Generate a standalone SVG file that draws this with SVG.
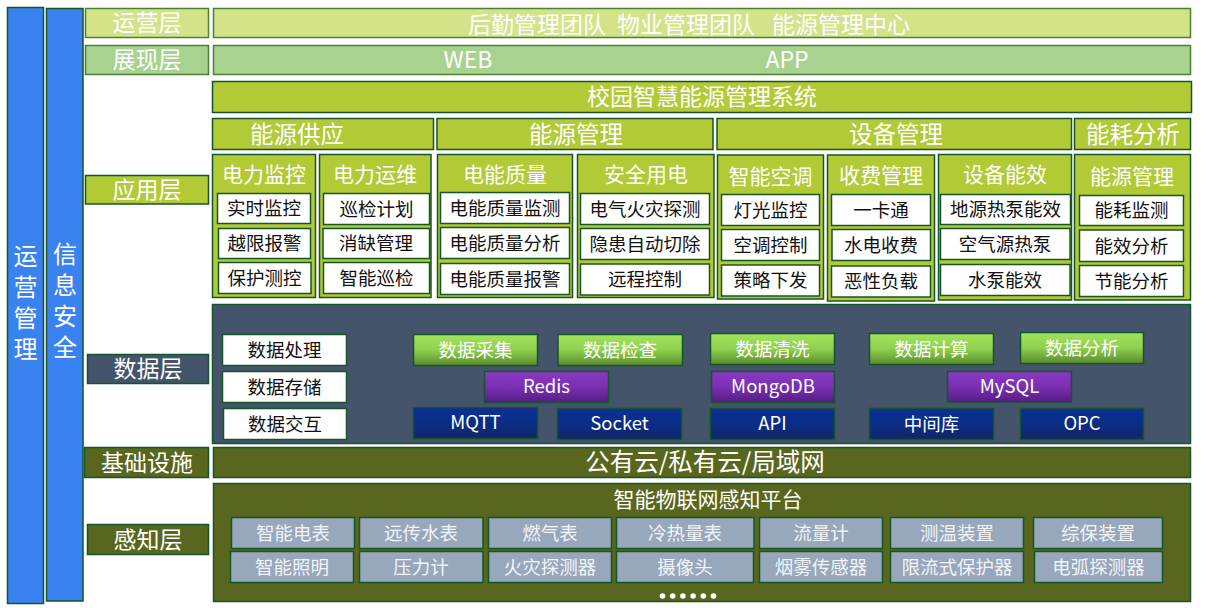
<svg xmlns="http://www.w3.org/2000/svg" width="1209" height="608" viewBox="0 0 1209 608">
<defs>
<linearGradient id="gGreen" x1="0" y1="0" x2="0" y2="1"><stop offset="0" stop-color="#a2e45c"/><stop offset="0.5" stop-color="#8fd04e"/><stop offset="1" stop-color="#5a8a2c"/></linearGradient>
<linearGradient id="gPurple" x1="0" y1="0" x2="0" y2="1"><stop offset="0" stop-color="#8a38c4"/><stop offset="0.5" stop-color="#7a30b2"/><stop offset="1" stop-color="#561c84"/></linearGradient>
<linearGradient id="gNavy" x1="0" y1="0" x2="0" y2="1"><stop offset="0" stop-color="#0a3094"/><stop offset="0.5" stop-color="#0b2d86"/><stop offset="1" stop-color="#102765"/></linearGradient>
</defs>
<style>
text{font-family:"Noto Sans CJK SC","Noto Sans",sans-serif;text-anchor:middle;}
.bd{stroke:#15552a;stroke-width:1.5;}
.lt{stroke:#4d7f35;stroke-width:1.5;}
.blue{fill:#3b82f1;}
.ops{fill:#d2e389;}
.pres{fill:#a8d290;}
.app{fill:#b1ca35;}
.slate{fill:#44546a;}
.olive{fill:#59661d;}
.wh{fill:#ffffff;}
.sen{fill:#97a7bc;}
.t22{font-size:23px;fill:#ffffff;}
.tc{font-size:23.5px;fill:#ffffff;}
.t24{font-size:24.5px;fill:#ffffff;}
.t20{font-size:21px;fill:#ffffff;}
.tb{font-size:18.5px;fill:#111111;}
.tw{font-size:18.5px;fill:#ffffff;}
.ts{font-size:18.5px;fill:#f1f4f8;}
.vt{font-size:24px;fill:#ffffff;writing-mode:vertical-rl;text-anchor:start;letter-spacing:7px;}
</style>

<g id="side-ops">
<rect class="blue bd" x="7.5" y="7.5" width="36" height="596"/>
<text class="vt" x="25.5" y="244">运营管理</text>
</g>
<g id="side-sec">
<rect class="blue bd" x="46.5" y="8.5" width="36.5" height="592.5"/>
<text class="vt" x="65" y="242">信息安全</text>
</g>

<g id="label-ops"><rect class="ops lt" x="85.5" y="8.5" width="123" height="29"/><text class="t22" x="147" y="31">运营层</text></g>
<g id="label-pres"><rect class="pres lt" x="85.5" y="45.5" width="123" height="29"/><text class="t22" x="147" y="68">展现层</text></g>
<g id="label-app"><rect class="app bd" x="85.5" y="175.5" width="123" height="28.5"/><text class="t22" x="147" y="197.5">应用层</text></g>
<g id="label-data"><rect class="slate bd" x="87.5" y="354.5" width="121" height="29"/><text class="t22" x="148" y="377">数据层</text></g>
<g id="label-infra"><rect class="olive bd" x="84.5" y="447.5" width="124" height="30"/><text class="t22" x="147" y="470.5">基础设施</text></g>
<g id="label-sense"><rect class="olive bd" x="87.5" y="524.5" width="121" height="30"/><text class="t22" x="148" y="547.5">感知层</text></g>

<g id="ops-bar"><rect class="ops lt" x="213.5" y="8.5" width="977" height="29"/>
<text class="t22" x="537" y="33">后勤管理团队</text>
<text class="t22" x="686" y="33">物业管理团队</text>
<text class="t22" x="841" y="33">能源管理中心</text></g>
<g id="pres-bar"><rect class="pres lt" x="213.5" y="45.5" width="977" height="29"/>
<text class="t22" x="468" y="68">WEB</text>
<text class="t22" x="787" y="68">APP</text></g>
<g id="system"><rect class="app bd" x="212.5" y="81.5" width="979" height="31"/><text class="t22" x="702" y="105">校园智慧能源管理系统</text></g>

<g id="cat-supply"><rect class="app bd" x="212.5" y="118.5" width="221" height="31"/><text class="tc" x="297" y="142.5">能源供应</text></g>
<g id="cat-energy"><rect class="app bd" x="437" y="118.5" width="276" height="31"/><text class="tc" x="576" y="142.5">能源管理</text></g>
<g id="cat-device"><rect class="app bd" x="717" y="118.5" width="354.5" height="31"/><text class="tc" x="896" y="142.5">设备管理</text></g>
<g id="cat-analysis"><rect class="app bd" x="1074.5" y="118.5" width="116" height="31"/><text class="tc" x="1133" y="142.5">能耗分析</text></g>

<g id="grp-power-mon"><rect class="app bd" x="212.5" y="154.5" width="103" height="143"/><text class="t20" x="264" y="181.5">电力监控</text>
<rect class="wh bd" x="217.5" y="193.5" width="93" height="30"/><text class="tb" x="264" y="215">实时监控</text>
<rect class="wh bd" x="218.5" y="228.5" width="92" height="30"/><text class="tb" x="264.5" y="250">越限报警</text>
<rect class="wh bd" x="218.5" y="262.5" width="92.5" height="31"/><text class="tb" x="264.5" y="284.5">保护测控</text></g>

<g id="grp-power-om"><rect class="app bd" x="319.5" y="154.5" width="111.5" height="143"/><text class="t20" x="375" y="181.5">电力运维</text>
<rect class="wh bd" x="323.5" y="193.5" width="106" height="31"/><text class="tb" x="376.5" y="215.5">巡检计划</text>
<rect class="wh bd" x="323" y="228.5" width="106.5" height="30"/><text class="tb" x="376" y="250">消缺管理</text>
<rect class="wh bd" x="323.5" y="262.5" width="106" height="31"/><text class="tb" x="376.5" y="284.5">智能巡检</text></g>

<g id="grp-quality"><rect class="app bd" x="437.5" y="154.5" width="135" height="143"/><text class="t20" x="505" y="181.5">电能质量</text>
<rect class="wh bd" x="440.5" y="192.5" width="129" height="31"/><text class="tb" x="505" y="214.5">电能质量监测</text>
<rect class="wh bd" x="440.5" y="227.5" width="129" height="31"/><text class="tb" x="505" y="249.5">电能质量分析</text>
<rect class="wh bd" x="440.5" y="263.5" width="129" height="31"/><text class="tb" x="505" y="285.5">电能质量报警</text></g>

<g id="grp-safety"><rect class="app bd" x="577.5" y="154.5" width="136.5" height="143"/><text class="t20" x="646" y="181.5">安全用电</text>
<rect class="wh bd" x="580.5" y="193.5" width="129" height="31"/><text class="tb" x="645" y="215.5">电气火灾探测</text>
<rect class="wh bd" x="580.5" y="228.5" width="129" height="31"/><text class="tb" x="645" y="250.5">隐患自动切除</text>
<rect class="wh bd" x="580.5" y="264" width="129" height="31"/><text class="tb" x="645" y="286">远程控制</text></g>

<g id="grp-hvac"><rect class="app bd" x="717.5" y="155" width="106" height="144"/><text class="t20" x="770.5" y="184">智能空调</text>
<rect class="wh bd" x="721.5" y="194.5" width="98" height="31"/><text class="tb" x="770.5" y="216.5">灯光监控</text>
<rect class="wh bd" x="721.5" y="229.5" width="98" height="31"/><text class="tb" x="770.5" y="251.5">空调控制</text>
<rect class="wh bd" x="721.5" y="265" width="98" height="31"/><text class="tb" x="770.5" y="287">策略下发</text></g>

<g id="grp-billing"><rect class="app bd" x="827.5" y="155" width="107" height="146"/><text class="t20" x="881" y="182.5">收费管理</text>
<rect class="wh bd" x="831.5" y="194.5" width="99" height="31"/><text class="tb" x="881" y="216.5">一卡通</text>
<rect class="wh bd" x="832" y="229.5" width="98.5" height="31"/><text class="tb" x="881" y="251.5">水电收费</text>
<rect class="wh bd" x="831.5" y="266" width="99" height="31"/><text class="tb" x="881" y="288">恶性负载</text></g>

<g id="grp-eff"><rect class="app bd" x="938.5" y="154.5" width="133" height="145.5"/><text class="t20" x="1005" y="181.5">设备能效</text>
<rect class="wh bd" x="940.5" y="194.5" width="130" height="30"/><text class="tb" x="1005.5" y="216">地源热泵能效</text>
<rect class="wh bd" x="940.5" y="228.5" width="129.5" height="31"/><text class="tb" x="1005" y="250.5">空气源热泵</text>
<rect class="wh bd" x="940.5" y="264.5" width="129.5" height="31"/><text class="tb" x="1005" y="286.5">水泵能效</text></g>

<g id="grp-emgmt"><rect class="app bd" x="1074.5" y="154.5" width="116" height="145.5"/><text class="t20" x="1132" y="183.5">能源管理</text>
<rect class="wh bd" x="1079.5" y="195.5" width="104" height="30"/><text class="tb" x="1131.5" y="217">能耗监测</text>
<rect class="wh bd" x="1079.5" y="230" width="104" height="31.5"/><text class="tb" x="1131.5" y="252.5">能效分析</text>
<rect class="wh bd" x="1079.5" y="265.5" width="104" height="31"/><text class="tb" x="1131.5" y="287.5">节能分析</text></g>

<g id="data-panel"><rect class="slate bd" x="212.5" y="304.5" width="978" height="139"/></g>
<g id="data-process"><rect class="wh bd" x="222.5" y="334.5" width="124" height="31"/><text class="tb" x="284.5" y="356.5">数据处理</text></g>
<g id="data-store"><rect class="wh bd" x="222.5" y="371.5" width="124" height="31"/><text class="tb" x="284.5" y="393.5">数据存储</text></g>
<g id="data-exchange"><rect class="wh bd" x="223.5" y="408.5" width="123" height="31"/><text class="tb" x="285" y="430.5">数据交互</text></g>

<g id="d-collect"><rect class="bd" fill="url(#gGreen)" x="413.5" y="334.5" width="124" height="31"/><text class="tw" x="475.5" y="356.5">数据采集</text></g>
<g id="d-check"><rect class="bd" fill="url(#gGreen)" x="558" y="334.5" width="124.5" height="31"/><text class="tw" x="620" y="356.5">数据检查</text></g>
<g id="d-clean"><rect class="bd" fill="url(#gGreen)" x="710.5" y="333.5" width="124" height="31"/><text class="tw" x="772.5" y="355.5">数据清洗</text></g>
<g id="d-calc"><rect class="bd" fill="url(#gGreen)" x="869.5" y="333.5" width="124" height="31"/><text class="tw" x="931.5" y="355.5">数据计算</text></g>
<g id="d-analyze"><rect class="bd" fill="url(#gGreen)" x="1020.5" y="332.5" width="123" height="31"/><text class="tw" x="1082" y="354.5">数据分析</text></g>

<g id="d-redis"><rect class="bd" fill="url(#gPurple)" x="484.5" y="371.5" width="124" height="31"/><text class="tw" x="546.5" y="392.5">Redis</text></g>
<g id="d-mongo"><rect class="bd" fill="url(#gPurple)" x="711.5" y="371.5" width="123" height="31"/><text class="tw" x="773" y="392.5">MongoDB</text></g>
<g id="d-mysql"><rect class="bd" fill="url(#gPurple)" x="947.5" y="371.5" width="124" height="30.5"/><text class="tw" x="1009.5" y="392.5">MySQL</text></g>

<g id="d-mqtt"><rect class="bd" fill="url(#gNavy)" x="413.5" y="407.5" width="124" height="31"/><text class="tw" x="475.5" y="428.5">MQTT</text></g>
<g id="d-socket"><rect class="bd" fill="url(#gNavy)" x="557.5" y="408.5" width="124" height="31"/><text class="tw" x="619.5" y="429.5">Socket</text></g>
<g id="d-api"><rect class="bd" fill="url(#gNavy)" x="710.5" y="408.5" width="124" height="31"/><text class="tw" x="772.5" y="429.5">API</text></g>
<g id="d-midlib"><rect class="bd" fill="url(#gNavy)" x="869.5" y="408.5" width="124" height="31"/><text class="tw" x="931.5" y="430.5">中间库</text></g>
<g id="d-opc"><rect class="bd" fill="url(#gNavy)" x="1020.5" y="408.5" width="123" height="31"/><text class="tw" x="1082" y="429.5">OPC</text></g>

<g id="infra-bar"><rect class="olive bd" x="213.5" y="447.5" width="977" height="30"/><text class="t24" x="705" y="471">公有云/私有云/局域网</text></g>

<g id="iot-panel"><rect class="olive bd" x="213.5" y="483.5" width="977" height="118"/><text class="t20" x="708" y="507">智能物联网感知平台</text>
<g fill="#ffffff"><circle cx="662.5" cy="596" r="2.8"/><circle cx="672.7" cy="596" r="2.8"/><circle cx="682.9" cy="596" r="2.8"/><circle cx="693.1" cy="596" r="2.8"/><circle cx="703.3" cy="596" r="2.8"/><circle cx="713.5" cy="596" r="2.8"/></g></g>

<g id="s-meter"><rect class="sen bd" x="231.5" y="517.5" width="123" height="31"/><text class="ts" x="293" y="539.5">智能电表</text></g>
<g id="s-water"><rect class="sen bd" x="359.5" y="517.5" width="123.5" height="31"/><text class="ts" x="421" y="539.5">远传水表</text></g>
<g id="s-gas"><rect class="sen bd" x="488.5" y="517.5" width="123" height="31"/><text class="ts" x="550" y="539.5">燃气表</text></g>
<g id="s-heat"><rect class="sen bd" x="616.5" y="517.5" width="137.5" height="31"/><text class="ts" x="685" y="539.5">冷热量表</text></g>
<g id="s-flow"><rect class="sen bd" x="759.5" y="517.5" width="123" height="31"/><text class="ts" x="821" y="539.5">流量计</text></g>
<g id="s-temp"><rect class="sen bd" x="890.5" y="517.5" width="133" height="31"/><text class="ts" x="957" y="539.5">测温装置</text></g>
<g id="s-prot"><rect class="sen bd" x="1033.5" y="517.5" width="129" height="31"/><text class="ts" x="1098" y="539.5">综保装置</text></g>

<g id="s-light"><rect class="sen bd" x="230.5" y="551.5" width="123" height="31"/><text class="ts" x="292" y="573.5">智能照明</text></g>
<g id="s-press"><rect class="sen bd" x="359.5" y="551.5" width="123.5" height="31"/><text class="ts" x="421" y="573.5">压力计</text></g>
<g id="s-fire"><rect class="sen bd" x="488.5" y="551.5" width="123" height="31"/><text class="ts" x="550" y="573.5">火灾探测器</text></g>
<g id="s-cam"><rect class="sen bd" x="616.5" y="551.5" width="137" height="31"/><text class="ts" x="685" y="573.5">摄像头</text></g>
<g id="s-smoke"><rect class="sen bd" x="759.5" y="551.5" width="123" height="31"/><text class="ts" x="821" y="573.5">烟雾传感器</text></g>
<g id="s-limit"><rect class="sen bd" x="890.5" y="551.5" width="133" height="31"/><text class="ts" x="957" y="573.5">限流式保护器</text></g>
<g id="s-arc"><rect class="sen bd" x="1034.5" y="551.5" width="128" height="31"/><text class="ts" x="1098.5" y="573.5">电弧探测器</text></g>
</svg>
